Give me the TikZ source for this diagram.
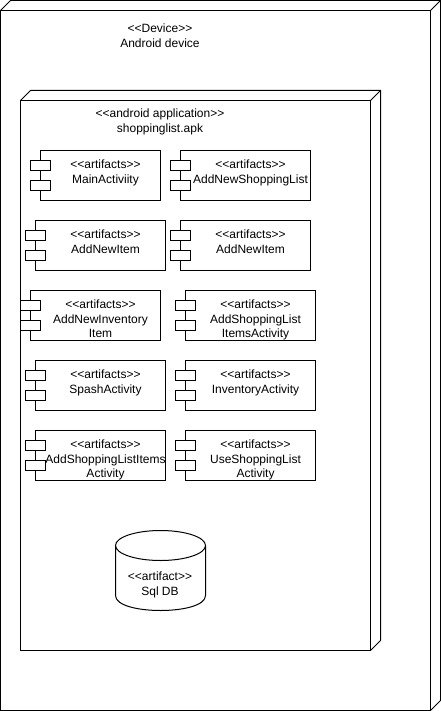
\documentclass[tikz,border=0pt]{standalone}
\usepackage{fontspec}
\newfontfamily\diofont{Liberation Sans}
\usetikzlibrary{calc}

\tikzset{
  nodebox/.style={draw, anchor=north west, inner sep=0pt, outer sep=0pt},
  artbox/.style={draw, anchor=north west, minimum height=50pt, inner sep=0pt, outer sep=0pt},
  portbox/.style={draw, fill=white, anchor=north west, minimum width=20pt, minimum height=10pt, inner sep=0pt, outer sep=0pt},
  lbl/.style={font=\diofont\fontsize{12}{14.4}\selectfont, align=center, inner sep=0pt, anchor=north},
}

\begin{document}
\begin{tikzpicture}[x=1pt, y=-1pt, line width=1pt]
        \useasboundingbox (0,0) rectangle (441,711);
        % device
        \node[nodebox, minimum width=430pt, minimum height=700pt] (device) at (0.5,10.5) {};
        \draw (device.north west) -- ++(10,-10) -- ++(430,0) -- ($(device.south east)+(10,-10)$) -- (device.south east);
        \draw (device.north east) -- ++(10,-10);
        \node[lbl] (devicelbl) at (160,23.6) {<<Device>>\\Android device};
        % application
        \node[nodebox, minimum width=350pt, minimum height=550pt] (app) at (20.5,100.5) {};
        \draw (app.north west) -- ++(10,-10) -- ++(350,0) -- ($(app.south east)+(10,-10)$) -- (app.south east);
        \draw (app.north east) -- ++(10,-10);
        \node[lbl] (applbl) at (160,108.5) {<<android application>>\\shoppinglist.apk};
        % artifacts
        \foreach \nm/\x/\y/\w/\txt in {
            main/40/150/120/MainActiviity,
            addlist/180/150/130/AddNewShoppingList,
            additem/35/220/130/AddNewItem,
            additemb/180/220/130/AddNewItem,
            addinv/30/290/130/{AddNewInventory\\Item},
            addlistitems/185/290/130/{AddShoppingList\\ItemsActivity},
            splash/35/360/130/SpashActivity,
            inventory/185/360/130/InventoryActivity,
            addlistitemsb/35/430/130/{AddShoppingListItems\\Activity},
            uselist/185/430/130/{UseShoppingList\\Activity}}{
          \node[artbox, minimum width=\w pt] (\nm) at (\x+0.5,\y+0.5) {};
          \node[portbox] (\nm p1) at ($(\nm.north west)+(-10,10)$) {};
          \node[portbox] (\nm p2) at ($(\nm.north west)+(-10,30)$) {};
          \node[lbl] (\nm lbl) at ($(\nm.north)+(5,9.2)$) {<<artifacts>>\\\txt};
        }
        % database
        \coordinate (db) at (160.5,545.5);
        \draw (db) ellipse [x radius=45, y radius=15];
        \draw ($(db)+(-45,0)$) -- ++(0,50) .. controls ++(0,20) and ($(db)+(45,70)$) .. ($(db)+(45,50)$) -- ($(db)+(45,0)$);
        \node[lbl] (dblbl) at (160,571.5) {<<artifact>>\\Sql DB};
    \end{tikzpicture}
\end{document}
